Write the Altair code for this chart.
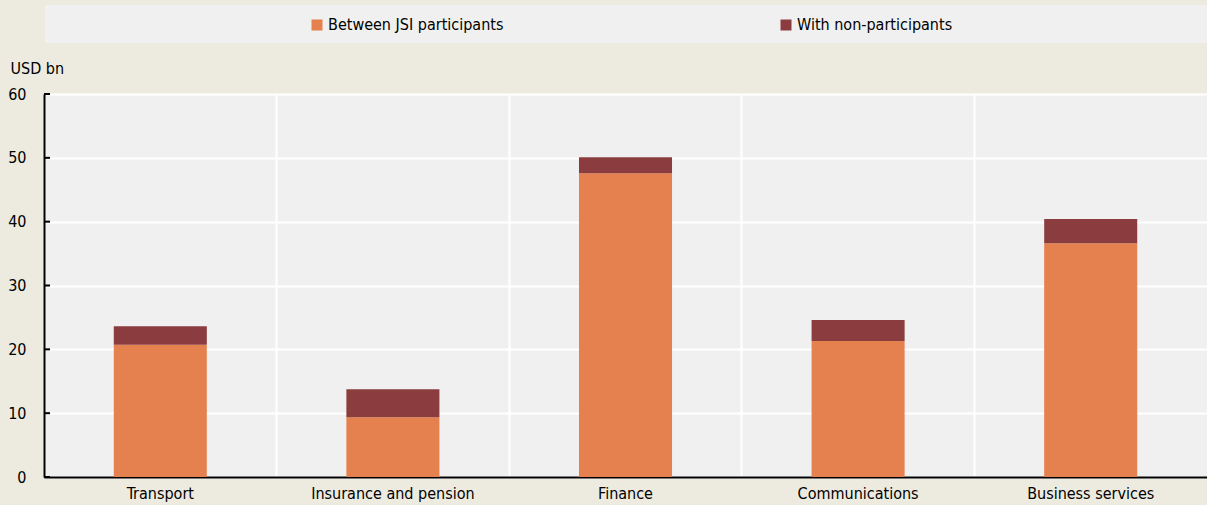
import altair as alt
import pandas as pd

# Services trade by sector, USD bn
categories = ["Transport", "Insurance and pension", "Finance", "Communications", "Business services"]
between_jsi = [20.7, 9.35, 47.6, 21.3, 36.6]
with_non = [2.9, 4.4, 2.5, 3.3, 3.8]
series = ["Between JSI participants", "With non-participants"]
colors = ["#E5814F", "#8B3C3E"]
y_ticks = [0, 10, 20, 30, 40, 50, 60]

FONT = "DejaVu Sans Condensed, Liberation Sans, sans-serif"

rows = []
for i, c in enumerate(categories):
    rows.append({"sector": c, "series": series[0], "value": between_jsi[i], "rank": 0})
    rows.append({"sector": c, "series": series[1], "value": with_non[i], "rank": 1})
df = pd.DataFrame(rows)
ticks_df = pd.DataFrame({"t": y_ticks})

x_enc = alt.X(
    "sector:N",
    sort=categories,
    scale=alt.Scale(paddingInner=0, paddingOuter=0),
    axis=alt.Axis(
        title=None, labelAngle=0, ticks=False, labelPadding=8,
        grid=True, gridColor="white", gridWidth=2, bandPosition=0,
        domainColor="black", domainWidth=2,
    ),
)
y_scale = alt.Scale(domain=[0, 60], nice=False)

# lighter strip behind the legend
legend_box = alt.Chart(pd.DataFrame({"k": [0]})).mark_rect(color="#F0F0F0").encode(
    x=alt.value(1), x2=alt.value(1163), y=alt.value(-89), y2=alt.value(-51)
)

bars = alt.Chart(df).mark_bar(width={"band": 0.4}).encode(
    x=x_enc,
    y=alt.Y(
        "value:Q",
        stack="zero",
        scale=y_scale,
        axis=alt.Axis(
            title="USD bn", titleAngle=0, titleAlign="left", titleBaseline="alphabetic",
            titleX=-34, titleY=-21, titleFontWeight="normal",
            values=y_ticks, tickSize=0, labelPadding=18,
            grid=True, gridColor="white", gridWidth=2,
            domainColor="black", domainWidth=2,
        ),
    ),
    color=alt.Color(
        "series:N",
        scale=alt.Scale(domain=series, range=colors),
        legend=alt.Legend(
            title=None, orient="none", direction="horizontal",
            legendX=265, legendY=-77, symbolType="square", symbolSize=121,
            symbolStrokeWidth=0, labelOffset=3, columnPadding=274,
            labelLimit=400,
        ),
    ),
    order=alt.Order("rank:Q"),
)

# short inward tick marks on the value axis
tick_marks = alt.Chart(ticks_df).mark_rule(color="black", strokeWidth=2).encode(
    y=alt.Y("t:Q", scale=y_scale),
    x=alt.value(0),
    x2=alt.value(6),
)

chart = (
    alt.layer(legend_box, bars, tick_marks)
    .properties(
        width=1163,
        height=383,
        autosize=alt.AutoSizeParams(type="none"),
        padding={"left": 44, "top": 94, "right": 0, "bottom": 28},
        background="#EDEBE0",
    )
    .configure_view(fill="#F0F0F0", stroke=None)
    .configure_axis(
        labelFont=FONT, labelFontSize=16, labelColor="black",
        titleFont=FONT, titleFontSize=16, titleColor="black",
    )
    .configure_legend(labelFont=FONT, labelFontSize=16, labelColor="black")
)

chart.save("out.html", embed_options={"renderer": "svg", "actions": False})
